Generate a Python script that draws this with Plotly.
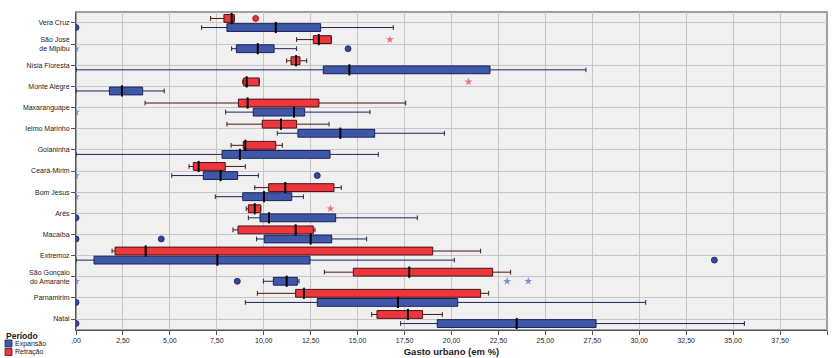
import plotly.graph_objects as go

categories = ["Vera Cruz", "São José<br>de Mipibu", "Nísia Floresta", "Monte Alegre", "Maxaranguape",
              "Ielmo Marinho", "Goianinha", "Ceará-Mirim", "Bom Jesus", "Arês", "Macaíba", "Extremoz",
              "São Gonçalo<br>do Amarante", "Parnamirim", "Natal"]

# Retração (red)
ret_lo = [7.17, 11.75, 11.22, 8.88, 3.68, 8.04, 8.26, 6.02, 9.52, 9.07, 8.36, 1.92, 13.23, 9.66, 15.75]
ret_q1 = [7.88, 12.64, 11.45, 8.93, 8.65, 9.92, 8.91, 6.25, 10.26, 9.18, 8.63, 2.08, 14.77, 11.70, 16.03]
ret_med = [8.29, 12.93, 11.72, 9.09, 9.14, 10.92, 9.02, 6.53, 11.15, 9.52, 11.70, 3.71, 17.75, 12.14, 17.68]
ret_q3 = [8.43, 13.60, 11.93, 9.76, 12.94, 11.75, 10.64, 7.95, 13.74, 9.84, 12.64, 19.00, 22.19, 21.55, 18.46]
ret_hi = [8.43, 13.60, 12.29, 9.76, 17.56, 13.48, 10.99, 9.02, 14.13, 9.84, 12.73, 21.55, 23.15, 21.98, 19.51]

# Expansão (blue)
exp_lo = [6.69, 8.29, 0.0, 0.0, 7.97, 10.72, 0.0, 5.10, 7.42, 9.18, 9.62, 0.0, 9.98, 9.02, 17.29]
exp_q1 = [8.04, 8.54, 13.17, 1.78, 9.44, 11.82, 7.78, 6.78, 8.88, 9.80, 10.03, 0.96, 10.51, 12.85, 19.24]
exp_med = [10.64, 9.68, 14.56, 2.45, 11.61, 14.08, 8.73, 7.70, 10.01, 10.28, 12.50, 7.53, 11.22, 17.15, 23.47]
exp_q3 = [13.03, 10.55, 22.05, 3.55, 12.18, 15.91, 13.53, 8.61, 11.49, 13.83, 13.62, 12.46, 11.79, 20.33, 27.70]
exp_hi = [16.90, 11.75, 27.16, 4.70, 15.66, 19.62, 16.10, 9.71, 12.11, 18.18, 15.48, 20.15, 11.88, 30.34, 35.60]

# Outliers (category index, value)
ret_circ_cat = [0]
ret_circ_val = [9.57]
ret_star_cat = [1, 3, 9]
ret_star_val = [16.72, 20.90, 13.55]
exp_circ_cat = [0, 1, 7, 9, 10, 10, 11, 12, 13, 14]
exp_circ_val = [0.0, 14.49, 12.85, 0.0, 0.0, 4.54, 34.00, 8.59, 0.0, 0.0]
exp_star_cat = [1, 4, 7, 8, 12, 12, 12]
exp_star_val = [0.0, 0.0, 0.0, 0.0, 0.0, 22.96, 24.09]

xticks = [0, 2.5, 5, 7.5, 10, 12.5, 15, 17.5, 20, 22.5, 25, 27.5, 30, 32.5, 35, 37.5, 40]
xticklabels = [",00", "2,50", "5,00", "7,50", "10,00", "12,50", "15,00", "17,50", "20,00",
               "22,50", "25,00", "27,50", "30,00", "32,50", "35,00", "37,50", "40,00"]

series_names = ["Expansão", "Retração"]
legend_title = "Período"

BLUE = "#3f57a8"
RED = "#ee363c"
OFF = 0.215

W, H = 834, 358
ML, MR, MT, MB = 76, 7, 12, 28
PW, PH = W - ML - MR, H - MT - MB


def px2x(px):
    return (px - ML) / PW


def px2y(py):
    return (H - MB - py) / PH


n = len(categories)
ret_pos = [i - OFF for i in range(n)]
exp_pos = [i + OFF for i in range(n)]

fig = go.Figure()
fig.add_trace(go.Box(orientation="h", y=exp_pos, q1=exp_q1, median=exp_med, q3=exp_q3,
                     lowerfence=exp_lo, upperfence=exp_hi, name=series_names[0],
                     fillcolor=BLUE, line=dict(color="#1c2358", width=1), width=0.37,
                     whiskerwidth=0.6, boxpoints=False, hoverinfo="skip", showlegend=False))
fig.add_trace(go.Box(orientation="h", y=ret_pos, q1=ret_q1, median=ret_med, q3=ret_q3,
                     lowerfence=ret_lo, upperfence=ret_hi, name=series_names[1],
                     fillcolor=RED, line=dict(color="#4a1414", width=1), width=0.37,
                     whiskerwidth=0.6, boxpoints=False, hoverinfo="skip", showlegend=False))

# medians (thicker black)
fig.add_trace(go.Scatter(x=exp_med, y=exp_pos, mode="markers", showlegend=False, hoverinfo="skip",
                         marker=dict(symbol="line-ns", size=8, line=dict(color="black", width=2))))
fig.add_trace(go.Scatter(x=ret_med, y=ret_pos, mode="markers", showlegend=False, hoverinfo="skip",
                         marker=dict(symbol="line-ns", size=8, line=dict(color="black", width=2))))

# outliers
fig.add_trace(go.Scatter(x=ret_circ_val, y=[c - OFF for c in ret_circ_cat], mode="markers",
                         showlegend=False, hoverinfo="skip",
                         marker=dict(symbol="circle", size=6, color="#e8323a",
                                     line=dict(color="#7a1a1a", width=0.8))))
fig.add_trace(go.Scatter(x=ret_star_val, y=[c - OFF for c in ret_star_cat], mode="markers",
                         showlegend=False, hoverinfo="skip",
                         marker=dict(symbol="star", size=6, color="#f0707c")))
fig.add_trace(go.Scatter(x=exp_circ_val, y=[c + OFF for c in exp_circ_cat], mode="markers",
                         showlegend=False, hoverinfo="skip",
                         marker=dict(symbol="circle", size=6, color="#34479a",
                                     line=dict(color="#1a2258", width=0.8))))
fig.add_trace(go.Scatter(x=exp_star_val, y=[c + OFF for c in exp_star_cat], mode="markers",
                         showlegend=False, hoverinfo="skip",
                         marker=dict(symbol="star", size=6, color="#7d8ad6")))

FONT = "Liberation Sans, Arial, sans-serif"

# compact SPSS-style legend at bottom-left
shapes = [dict(type="rect", xref="paper", yref="paper", x0=0, x1=1, y0=0, y1=1,
               line=dict(color="#a0a0a0", width=2), layer="below")]
annotations = [dict(text="<b>" + legend_title + "</b>", xref="paper", yref="paper",
                    x=px2x(4), y=px2y(336), xanchor="left", yanchor="middle", showarrow=False,
                    font=dict(size=8.5, color="#222"))]
for k, (nm, col, lc) in enumerate(zip(series_names, [BLUE, RED], ["#1c2358", "#4a1414"])):
    top = 340 + k * 8.5
    shapes.append(dict(type="rect", xref="paper", yref="paper", x0=px2x(5), x1=px2x(12),
                       y0=px2y(top + 7), y1=px2y(top), fillcolor=col,
                       line=dict(color=lc, width=0.8)))
    annotations.append(dict(text=nm, xref="paper", yref="paper", x=px2x(13), y=px2y(top + 3.5),
                            xanchor="left", yanchor="middle", showarrow=False,
                            font=dict(size=7, color="#222")))

fig.update_layout(
    width=W, height=H,
    margin=dict(l=ML, r=MR, t=MT, b=MB, autoexpand=False),
    paper_bgcolor="white", plot_bgcolor="#f0f0f0",
    boxmode="overlay",
    font=dict(family=FONT, size=7, color="#222"),
    showlegend=False,
    shapes=shapes,
    annotations=annotations,
)

fig.update_xaxes(range=[0, 40], tickvals=xticks, ticktext=xticklabels,
                 showgrid=True, gridcolor="#c6c6c6", gridwidth=1, zeroline=False,
                 showline=True, linecolor="#555", linewidth=1, ticks="outside", ticklen=4,
                 tickcolor="#555", tickfont=dict(size=7, color="#222"),
                 title=dict(text="<b>Gasto urbano (em %)</b>", font=dict(size=9.5, color="#222"),
                            standoff=4))
fig.update_yaxes(range=[n - 1 + 0.52, -0.52], tickvals=list(range(n)), ticktext=categories,
                 showgrid=True, gridcolor="#c6c6c6", gridwidth=1, zeroline=False,
                 showline=True, linecolor="#555", linewidth=1, ticks="outside", ticklen=4,
                 tickcolor="#555", tickfont=dict(size=7, color="#222"))

fig.write_html("out.html")
